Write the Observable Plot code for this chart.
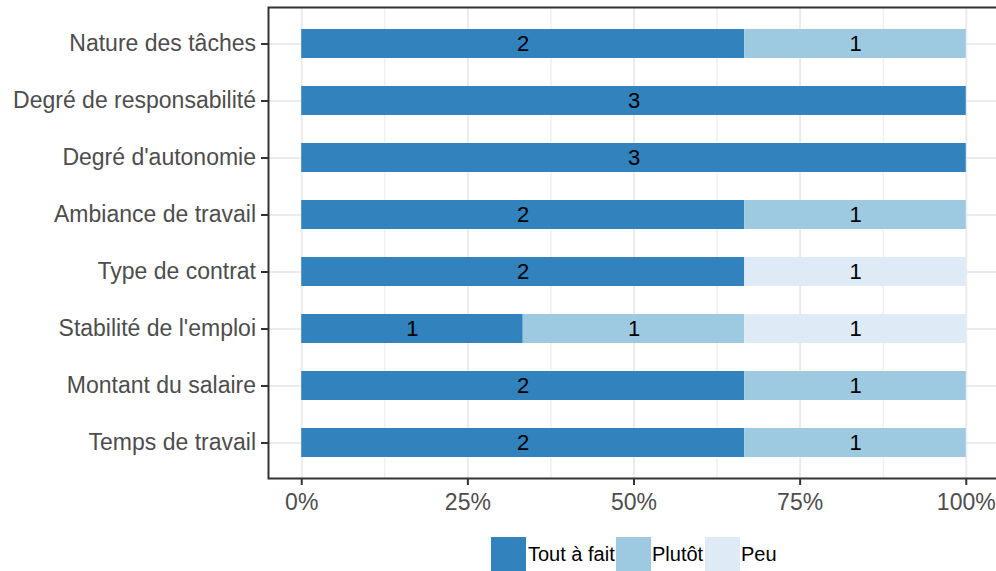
<!DOCTYPE html>
<html>
<head>
<meta charset="utf-8">
<script src="https://cdn.jsdelivr.net/npm/d3@7"></script>
<script src="https://cdn.jsdelivr.net/npm/@observablehq/plot@0.6"></script>
<style>
  html, body { margin: 0; padding: 0; background: white; overflow: hidden; }
  #wrap { position: relative; width: 996px; height: 571px; overflow: hidden; }
  #chart svg { max-width: none !important; }
  #legend { position: absolute; top: 537px; left: 491px; height: 35px; font-family: "Liberation Sans", Arial, sans-serif; font-size: 20px; color: #000; }
  .key { position: absolute; top: 0; width: 35px; height: 35px; }
  .lab { position: absolute; top: 0; line-height: 35px; white-space: nowrap; }
</style>
</head>
<body>
<div id="wrap"><div id="chart"></div><div id="legend"></div></div>
<script>
const categories = ["Nature des tâches", "Degré de responsabilité", "Degré d'autonomie", "Ambiance de travail", "Type de contrat", "Stabilité de l'emploi", "Montant du salaire", "Temps de travail"];
const series = ["Tout à fait", "Plutôt", "Peu"];
const colors = ["#3182BD", "#9ECAE1", "#DEEBF7"];
const toutAFait = [2, 3, 3, 2, 2, 1, 2, 2];
const plutot    = [1, 0, 0, 1, 0, 1, 1, 1];
const peu       = [0, 0, 0, 0, 1, 1, 0, 0];
const xTicks = [0, 0.25, 0.5, 0.75, 1];
const xMinor = [0.125, 0.375, 0.625, 0.875];

const values = [toutAFait, plutot, peu];
const data = [];
categories.forEach((c, i) => {
  series.forEach((s, j) => data.push({cat: c, resp: s, n: values[j][i]}));
});

const font = "Liberation Sans, Arial, sans-serif";
const chart = Plot.plot({
  width: 999,
  height: 520,
  marginLeft: 268,
  marginRight: 0,
  marginTop: 7,
  marginBottom: 42,
  style: {fontFamily: font, fontSize: "23px", background: "white", overflow: "visible", maxWidth: "none"},
  x: {domain: [-0.05, 1.05]},
  y: {domain: categories, paddingInner: 0.5, paddingOuter: 0.35},
  color: {domain: series, range: colors},
  marks: [
    Plot.ruleX(xMinor, {stroke: "#EBEBEB", strokeWidth: 1.1}),
    Plot.ruleX(xTicks, {stroke: "#EBEBEB", strokeWidth: 2}),
    Plot.ruleY(categories, {y: d => d, stroke: "#EBEBEB", strokeWidth: 2}),
    Plot.barX(data, Plot.stackX({offset: "normalize", x: "n", y: "cat", z: "resp", fill: "resp"})),
    Plot.text(data, Plot.stackX({offset: "normalize", x: "n", y: "cat", z: "resp",
      text: d => d.n > 0 ? String(d.n) : "", fill: "#000", fontSize: 22})),
    Plot.frame({stroke: "#333333", strokeWidth: 2}),
    Plot.axisX({ticks: xTicks, tickFormat: d3.format(".0%"), tickSize: 7, tickPadding: 8,
      stroke: "#333333", strokeWidth: 2, fill: "#4D4D4D", fontSize: 23, label: null}),
    Plot.axisY({tickSize: 7, tickPadding: 5.5, stroke: "#333333", strokeWidth: 2,
      fill: "#4D4D4D", fontSize: 23, label: null})
  ]
});
document.getElementById("chart").appendChild(chart);

const legend = document.getElementById("legend");
const keyX = [0, 125, 214];
const labX = [37, 161, 250];
series.forEach((s, i) => {
  const k = document.createElement("div");
  k.className = "key"; k.style.left = keyX[i] + "px"; k.style.background = colors[i];
  legend.appendChild(k);
  const t = document.createElement("div");
  t.className = "lab"; t.style.left = labX[i] + "px"; t.textContent = s;
  legend.appendChild(t);
});
</script>
</body>
</html>
